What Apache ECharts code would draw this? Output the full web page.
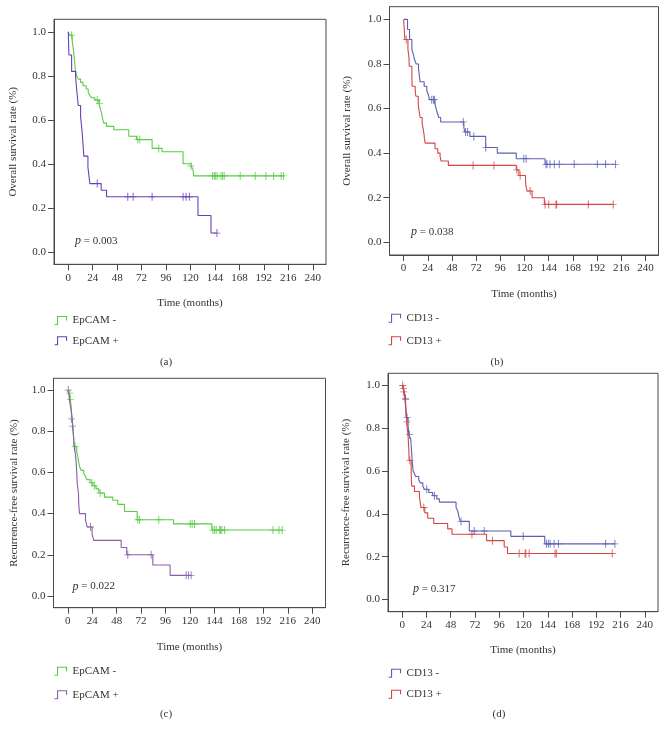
<!DOCTYPE html>
<html><head><meta charset="utf-8">
<script src="https://cdn.jsdelivr.net/npm/echarts@6/dist/echarts.min.js"></script>
<style>html,body{margin:0;padding:0;background:#fff}#c{width:667px;height:736px}</style>
</head><body><div id="c"></div>
<script>
// x tick labels (months) and y tick labels
const xTicks = [0,24,48,72,96,120,144,168,192,216,240];
const yTicks = [0,0.2,0.4,0.6,0.8,1.0];

// Panel (a): overall survival by EpCAM
const aNegSteps = [[0,1],[1.3,0.985],[3.9,0.955],[4.9,0.925],[5.6,0.895],[6.2,0.865],[6.9,0.83],[8.2,0.8],[9.8,0.785],[12.1,0.77],[14.4,0.755],[17.6,0.74],[19.6,0.725],[21.2,0.71],[23,0.70],[26.1,0.69],[30.0,0.675],[31.0,0.66],[31.7,0.645],[32.7,0.63],[33.3,0.615],[34.0,0.60],[34.9,0.585],[37.6,0.57],[44.7,0.555],[59.4,0.525],[66.9,0.51],[82.3,0.47],[92.1,0.455],[112.7,0.40],[120.5,0.39],[122.4,0.375],[123.1,0.345],[211.3,0.345]];
const aNegCens = [[3.3,0.985],[28.4,0.69],[30.7,0.675],[68.2,0.51],[70.2,0.51],[88.8,0.47],[120.5,0.39],[141.7,0.345],[143.3,0.345],[144.3,0.345],[146,0.345],[149.9,0.345],[151.5,0.345],[153.1,0.345],[168.8,0.345],[183.5,0.345],[194,0.345],[201.5,0.345],[209,0.345],[211.3,0.345]];
const aPosSteps = [[0,1],[0.65,0.895],[3.3,0.82],[7.2,0.795],[8.2,0.74],[9.8,0.665],[12.1,0.615],[13.7,0.54],[15.3,0.435],[19.3,0.385],[21.2,0.31],[32.3,0.28],[37.6,0.25],[127.3,0.165],[140.1,0.085],[146,0.085]];
const aPosCens = [[28.4,0.31],[58.4,0.25],[63.7,0.25],[82.3,0.25],[112.7,0.25],[115.6,0.25],[118.9,0.25],[146,0.085]];

// Panel (b): overall survival by CD13
const bNegSteps = [[0,1],[3.9,0.955],[5.9,0.91],[8.2,0.865],[9.9,0.84],[10.8,0.82],[12.5,0.8],[14.8,0.78],[15.8,0.74],[16.4,0.72],[20.4,0.70],[23.0,0.68],[24.7,0.66],[25.6,0.64],[31.2,0.62],[32.2,0.60],[33.5,0.58],[34.8,0.56],[36.8,0.54],[59.8,0.515],[60.8,0.495],[65.7,0.475],[81.5,0.425],[93.0,0.40],[111.8,0.375],[140.4,0.35],[210.4,0.35]];
const bNegCens = [[27.9,0.64],[29.6,0.64],[30.6,0.64],[59.2,0.54],[61.5,0.495],[63.4,0.495],[69.7,0.475],[81.5,0.425],[119.3,0.375],[121.6,0.375],[141.4,0.35],[142.3,0.35],[145.3,0.35],[149.6,0.35],[154.5,0.35],[169.3,0.35],[192.3,0.35],[200.5,0.35],[210.4,0.35]];
const bPosSteps = [[0,1],[0.66,0.955],[1.3,0.91],[4.3,0.865],[5.3,0.83],[5.6,0.79],[8.2,0.74],[8.5,0.70],[11.5,0.68],[12.2,0.655],[14.5,0.62],[15.5,0.585],[16.4,0.56],[18.4,0.535],[20.1,0.49],[20.7,0.465],[21.4,0.445],[31.2,0.42],[33.9,0.40],[36.2,0.385],[37.1,0.365],[44.4,0.345],[111.8,0.325],[114.4,0.30],[121.0,0.275],[121.6,0.25],[122.6,0.23],[127.5,0.2],[139.7,0.17],[208.1,0.17]];
const bPosCens = [[2.6,0.91],[69.0,0.345],[89.7,0.345],[112.4,0.325],[115.7,0.30],[125.6,0.23],[140.4,0.17],[144.0,0.17],[151.2,0.17],[151.9,0.17],[183.4,0.17],[208.1,0.17]];

// Panel (c): recurrence-free survival by EpCAM
const cNegSteps = [[0,1],[1.0,0.985],[2.6,0.955],[3.3,0.92],[3.9,0.88],[4.6,0.84],[5.2,0.80],[5.9,0.76],[6.5,0.725],[8.8,0.70],[9.8,0.68],[10.5,0.655],[11.5,0.63],[13.1,0.61],[15.7,0.595],[17.4,0.58],[18.7,0.565],[21.9,0.55],[24.6,0.535],[27.8,0.52],[30.5,0.50],[36.0,0.48],[44.2,0.465],[49.1,0.445],[55.7,0.41],[68.1,0.37],[103.8,0.35],[141.4,0.32],[210.5,0.32]];
const cNegCens = [[2.0,0.985],[2.6,0.955],[7.2,0.725],[23.6,0.55],[26.2,0.535],[31.8,0.50],[68.8,0.37],[70.4,0.37],[89.4,0.37],[120.2,0.35],[122.1,0.35],[124.4,0.35],[142.4,0.32],[144.1,0.32],[145.7,0.32],[149.0,0.32],[150.0,0.32],[151.3,0.32],[153.9,0.32],[201.4,0.32],[207.3,0.32],[210.5,0.32]];
const cPosSteps = [[0,1],[1.0,0.985],[1.6,0.955],[2.6,0.92],[3.6,0.89],[4.3,0.86],[4.9,0.825],[5.6,0.78],[6.2,0.725],[7.5,0.69],[8.2,0.65],[8.8,0.6],[9.2,0.55],[10.5,0.5],[10.8,0.45],[11.5,0.40],[17.4,0.37],[19.0,0.335],[23.9,0.30],[25.5,0.27],[52.4,0.235],[57.9,0.2],[83.5,0.15],[100.5,0.10],[121.1,0.10]];
const cPosCens = [[0.5,1.0],[3.6,0.86],[4.6,0.825],[22.3,0.335],[58.9,0.2],[81.9,0.2],[116.2,0.10],[118.5,0.10],[121.1,0.10]];

// Panel (d): recurrence-free survival by CD13
const dNegSteps = [[0,1],[1.3,0.985],[2.0,0.97],[2.6,0.94],[3.6,0.89],[3.9,0.85],[5.9,0.81],[6.6,0.77],[8.5,0.75],[9.2,0.70],[9.9,0.65],[10.8,0.60],[12.5,0.585],[13.1,0.575],[16.4,0.56],[17.8,0.545],[20.4,0.53],[22.0,0.515],[26.3,0.50],[30.2,0.485],[34.2,0.47],[36.8,0.455],[53.3,0.43],[54.9,0.415],[55.6,0.40],[56.5,0.38],[57.5,0.365],[66.4,0.32],[107.5,0.295],[141.0,0.26],[210.4,0.26]];
const dNegCens = [[3.3,0.94],[4.9,0.85],[7.2,0.77],[24.3,0.515],[31.9,0.485],[58.2,0.365],[71.3,0.32],[81.2,0.32],[119.7,0.295],[142.7,0.26],[144.6,0.26],[146.3,0.26],[150.2,0.26],[154.5,0.26],[201.2,0.26],[210.4,0.26]];
const dPosSteps = [[0,1],[1.3,0.985],[1.6,0.97],[3.3,0.935],[3.9,0.88],[4.6,0.83],[5.9,0.76],[6.6,0.70],[6.9,0.65],[8.9,0.60],[9.2,0.55],[9.5,0.53],[12.2,0.505],[17.1,0.48],[17.8,0.455],[18.7,0.43],[22.4,0.405],[25.3,0.38],[31.2,0.355],[45.0,0.33],[49.3,0.305],[83.5,0.275],[100.9,0.245],[104.2,0.215],[207.8,0.215]];
const dPosCens = [[0.5,1.0],[1.3,0.985],[1.6,0.97],[3.3,0.935],[4.6,0.83],[7.6,0.65],[21.4,0.43],[69.0,0.305],[89.4,0.275],[115.7,0.215],[121.6,0.215],[122.3,0.215],[125.6,0.215],[151.2,0.215],[152.5,0.215],[207.8,0.215]];

const pValues = ['0.003','0.038','0.022','0.317'];
const panelLabels = ['(a)','(b)','(c)','(d)'];
const yTitles = ['Overall survival rate (%)','Overall survival rate (%)','Recurrence-free survival rate (%)','Recurrence-free survival rate (%)'];
const xTitle = 'Time (months)';

const FONT = '"Liberation Serif", "DejaVu Serif", serif';
const TXT = '#333';
const FRAME = '#4a4a4a';
const GREEN = '#58cc45', PURPLE_A = '#6a3fb8', PURPLE_C = '#8c5ca8', BLUE = '#5c60b2', RED = '#d34646';

const panels = [
  {grid:{left:54,top:19.3,width:272,height:245}, yGap:35, xGap:33, neg:'EpCAM -', pos:'EpCAM +', negC:GREEN, posC:PURPLE_A,
   negS:aNegSteps, negCen:aNegCens, posS:aPosSteps, posCen:aPosCens, legendTop:315, legendLeft:54, legendGap:9.3,
   p:{left:75,top:235}, lab:{x:166,y:362}},
  {grid:{left:389.5,top:6.7,width:269,height:248.3}, yGap:37, xGap:34, neg:'CD13 -', pos:'CD13 +', negC:BLUE, posC:RED,
   negS:bNegSteps, negCen:bNegCens, posS:bPosSteps, posCen:bPosCens, legendTop:312.7, legendLeft:388, legendGap:11.6,
   p:{left:411,top:226}, lab:{x:497,y:362}},
  {grid:{left:53.5,top:378.3,width:272,height:229.4}, yGap:34, xGap:34, neg:'EpCAM -', pos:'EpCAM +', negC:GREEN, posC:PURPLE_C,
   negS:cNegSteps, negCen:cNegCens, posS:cPosSteps, posCen:cPosCens, legendTop:665.8, legendLeft:54, legendGap:12.4,
   p:{left:72.5,top:580.5}, lab:{x:166,y:714}},
  {grid:{left:388,top:373.3,width:270,height:238.4}, yGap:36, xGap:33, neg:'CD13 -', pos:'CD13 +', negC:BLUE, posC:RED,
   negS:dNegSteps, negCen:dNegCens, posS:dPosSteps, posCen:dPosCens, legendTop:667.7, legendLeft:388, legendGap:10,
   p:{left:413,top:583}, lab:{x:499,y:714}}
];

const PLUS = 'path://M4.5,0h1v4.5h3v1h-3v4.5h-1v-4.5h-3v-1h3z';
const STEP_ICON = 'path://M0,9H3V1H12V5';

const option = {animation:false, backgroundColor:'#fff', grid:[], xAxis:[], yAxis:[], series:[], legend:[], title:[], graphic:[]};

panels.forEach((p, i) => {
  option.grid.push(Object.assign({show:true, borderColor:FRAME, borderWidth:1, backgroundColor:'transparent', containLabel:false}, p.grid));
  option.xAxis.push({
    type:'value', gridIndex:i, min:-14, max:253,
    name:xTitle, nameLocation:'middle', nameGap:p.xGap,
    nameTextStyle:{fontFamily:FONT, fontSize:11, color:TXT},
    axisLine:{show:true, onZero:false, lineStyle:{color:FRAME, width:1}},
    axisTick:{show:true, length:6, customValues:xTicks, lineStyle:{color:FRAME}},
    axisLabel:{customValues:xTicks, fontFamily:FONT, fontSize:11, color:TXT, margin:8},
    splitLine:{show:false}
  });
  option.yAxis.push({
    type:'value', gridIndex:i, min:-0.057, max:1.057,
    name:yTitles[i], nameLocation:'middle', nameGap:p.yGap,
    nameTextStyle:{fontFamily:FONT, fontSize:11, color:TXT},
    axisLine:{show:true, onZero:false, lineStyle:{color:FRAME, width:1}},
    axisTick:{show:true, length:6, customValues:yTicks, lineStyle:{color:FRAME}},
    axisLabel:{customValues:yTicks, fontFamily:FONT, fontSize:11, color:TXT, margin:8, formatter:v => v.toFixed(1)},
    splitLine:{show:false}
  });
  const mk = (name, data, cens, color) => {
    option.series.push({type:'line', name:name, xAxisIndex:i, yAxisIndex:i, data:data, step:'end', showSymbol:false, symbol:'none',
      lineStyle:{color:color, width:1.1}, itemStyle:{color:color}, silent:true});
    option.series.push({type:'scatter', name:name + ' censored', xAxisIndex:i, yAxisIndex:i, data:cens, symbol:PLUS, symbolSize:[7,8],
      itemStyle:{color:color}, silent:true});
  };
  mk(p.neg, p.negS, p.negCen, p.negC);
  mk(p.pos, p.posS, p.posCen, p.posC);
  option.legend.push({
    orient:'vertical', left:p.legendLeft, top:p.legendTop, padding:0, itemGap:p.legendGap, itemWidth:14, itemHeight:8,
    icon:STEP_ICON, selectedMode:false,
    itemStyle:{color:'transparent', borderWidth:1.1},
    textStyle:{fontFamily:FONT, fontSize:11, color:TXT},
    data:[{name:p.neg, itemStyle:{borderColor:p.negC, color:'transparent'}}, {name:p.pos, itemStyle:{borderColor:p.posC, color:'transparent'}}]
  });
  option.title.push({
    text:'{i|p} = ' + pValues[i], left:p.p.left, top:p.p.top, padding:0,
    textStyle:{fontFamily:FONT, fontSize:11, fontWeight:'normal', color:TXT,
      rich:{i:{fontFamily:FONT, fontSize:12, fontStyle:'italic', color:TXT}}}
  });
  option.graphic.push({type:'text', x:p.lab.x, y:p.lab.y, style:{text:panelLabels[i], font:'11px ' + FONT, fill:TXT, align:'center', verticalAlign:'middle'}});
});

const chart = echarts.init(document.getElementById('c'), null, {renderer:'canvas'});
chart.setOption(option);
</script>
</body></html>
